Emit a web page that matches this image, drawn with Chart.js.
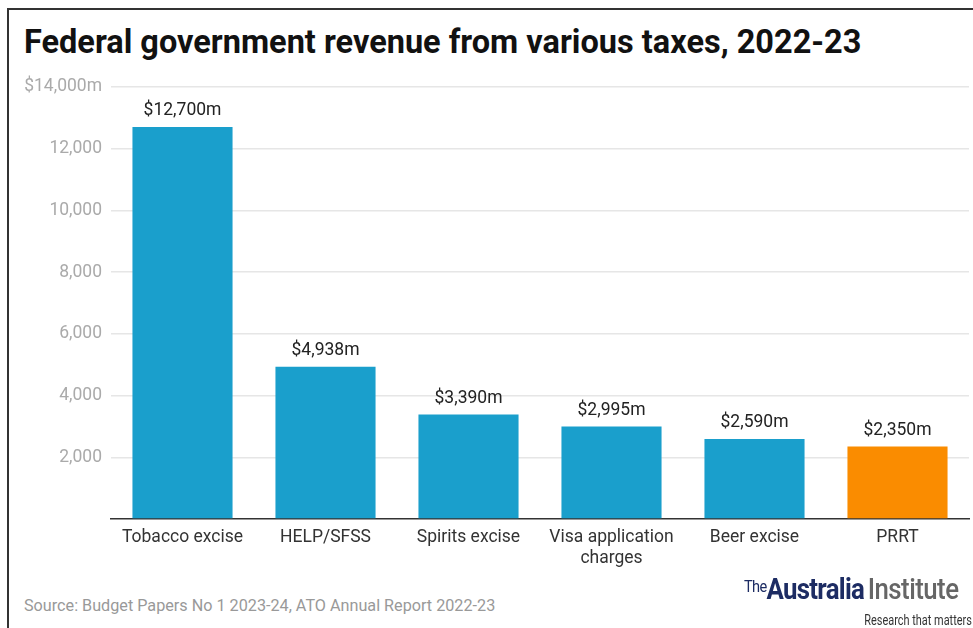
<!DOCTYPE html>
<html>
<head>
<meta charset="utf-8">
<script src="https://cdn.jsdelivr.net/npm/chart.js@4.4.0/dist/chart.umd.min.js"></script>
<style>
    html, body { margin: 0; padding: 0; background: #fff; }
    body { width: 973px; height: 628px; position: relative; overflow: hidden; font-family: Roboto, sans-serif; }
    .frame { position: absolute; left: 7px; top: 8px; right: -10px; bottom: -10px; border-top: 2px solid #333; border-left: 2px solid #333; }
    .title { position: absolute; left: 24px; top: 23px; font-size: 32.5px; font-weight: 700; color: #111; white-space: nowrap; }
    .chart-box { position: absolute; left: 10px; top: 60px; width: 963px; height: 520px; }
    .source { position: absolute; left: 24px; top: 596px; font-size: 16.2px; color: #999; white-space: nowrap; }
    .logo { position: absolute; left: 744px; top: 574px; white-space: nowrap; transform-origin: left top; transform: scaleX(0.86); line-height: 1; }
    .logo .the { font-size: 17px; color: #1d2c63; vertical-align: 7px; letter-spacing: -0.8px; }
    .logo .aus { font-size: 30px; font-weight: 700; color: #1d2c63; letter-spacing: -0.8px; }
    .logo .inst { font-size: 30px; font-weight: 500; color: #666; letter-spacing: -0.6px; margin-left: 4px; }
    .tagline { position: absolute; right: 1px; top: 612px; font-size: 14px; color: #333; white-space: nowrap; transform-origin: right top; transform: scaleX(0.78); }
</style>
</head>
<body>
<div class="frame"></div>
<div class="title">Federal government revenue from various taxes, 2022-23</div>
<div class="chart-box"><canvas id="taxChart"></canvas></div>
<div class="source">Source: Budget Papers No 1 2023-24, ATO Annual Report 2022-23</div>
<div class="logo"><span class="the">The</span><span class="aus">Australia</span><span class="inst">Institute</span></div>
<div class="tagline">Research that matters</div>

<script>
// chart data ($m)
const categories = [
    'Tobacco excise',
    'HELP/SFSS',
    'Spirits excise',
    ['Visa application', 'charges'],
    'Beer excise',
    'PRRT'
];
const revenue = [12700, 4938, 3390, 2995, 2590, 2350];
const barColors = ['#1a9fcc', '#1a9fcc', '#1a9fcc', '#1a9fcc', '#1a9fcc', '#fa8c00'];
const yTicks = [0, 2000, 4000, 6000, 8000, 10000, 12000, 14000];

// value labels on top of the bars
const barLabels = {
    id: 'barLabels',
    afterDatasetsDraw(chart) {
        const ctx = chart.ctx;
        const meta = chart.getDatasetMeta(0);
        ctx.save();
        ctx.font = '17.5px Roboto';
        ctx.fillStyle = '#222';
        ctx.textAlign = 'center';
        ctx.textBaseline = 'middle';
        meta.data.forEach((bar, i) => {
            ctx.fillText('$' + revenue[i].toLocaleString('en-US') + 'm', bar.x, bar.y - 16);
        });
        ctx.restore();
    }
};

const taxChart = new Chart(document.getElementById('taxChart'), {
    type: 'bar',
    data: {
        labels: categories,
        datasets: [{
            data: revenue,
            backgroundColor: barColors,
            barPercentage: 0.7,
            categoryPercentage: 1
        }]
    },
    options: {
        responsive: true,
        maintainAspectRatio: false,
        animation: false,
        layout: { padding: { top: 27, right: 4, bottom: 3, left: 0 } },
        plugins: {
            legend: { display: false },
            tooltip: { enabled: false }
        },
        scales: {
            x: {
                grid: { display: false, drawTicks: false },
                border: { color: '#333', width: 1.5 },
                ticks: {
                    color: '#333',
                    padding: 8,
                    maxRotation: 0,
                    font: { family: 'Roboto', size: 17.5, lineHeight: 1.2 }
                }
            },
            y: {
                min: 0,
                max: 14000,
                afterBuildTicks(axis) {
                    axis.ticks = yTicks.map(v => ({ value: v }));
                },
                afterFit(axis) {
                    axis.width = 101;
                },
                border: { display: false },
                grid: {
                    drawTicks: false,
                    color: ctx => ctx.tick && ctx.tick.value === 0 ? 'rgba(0,0,0,0)' : '#e6e6e6',
                    lineWidth: 1.5
                },
                ticks: {
                    color: '#aaa',
                    padding: 9,
                    font: { family: 'Roboto', size: 17.5 },
                    callback(value) {
                        if (value === 0) return '';
                        if (value === 14000) return '$' + value.toLocaleString('en-US') + 'm';
                        return value.toLocaleString('en-US');
                    }
                }
            }
        }
    },
    plugins: [barLabels]
});
</script>
</body>
</html>
